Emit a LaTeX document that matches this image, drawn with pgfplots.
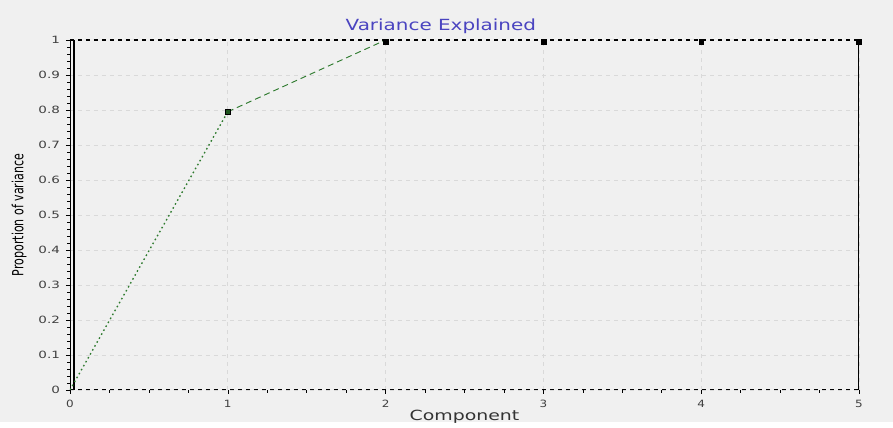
\documentclass[border=0pt]{standalone}
\usepackage{fontspec}
\setmainfont{DejaVu Sans}
\usepackage{pgfplots}
\pgfplotsset{compat=1.18}
\definecolor{bg}{HTML}{F0F0F0}
\definecolor{titleblue}{HTML}{4A44C0}
\definecolor{linegreen}{HTML}{2E7A2E}
\definecolor{ticktext}{HTML}{404040}

\begin{document}
\begin{tikzpicture}
% page background, 893x422 px at 0.75pt per px
\fill[bg] (-52.5pt,-24pt) rectangle (617.25pt,292.5pt);
\begin{axis}[
	at={(0,0)}, anchor=south west,
	scale only axis,
	width=591.75pt, height=262.5pt,
	xmin=0, xmax=5, ymin=0, ymax=1,
	xtick={0,1,2,3,4,5},
	ytick={0,0.1,0.2,0.3,0.4,0.5,0.6,0.7,0.8,0.9,1},
	minor x tick num=3,
	minor y tick num=4,
	xtick pos=left, ytick pos=left,
	tick align=outside,
	major tick length=3pt, minor tick length=2pt,
	tick style={black, line width=0.4pt},
	xmajorgrids, ymajorgrids,
	grid style={dashed, black!15, line width=0.5pt},
	axis line style={draw=none},
	ticklabel style={font=\fontsize{7.5}{8}\selectfont, text=ticktext},
	/pgf/number format/assume math mode=true,
	yticklabel={\scalebox{1.35}[1]{\pgfmathprintnumber[fixed,precision=1]{\tick}}},
	xticklabel={\scalebox{1.2}[1]{\pgfmathprintnumber{\tick}}},
	xticklabel style={yshift=-1pt},
	yticklabel style={xshift=-1pt},
	title={\scalebox{1.3}[1]{Variance Explained}},
	title style={font=\fontsize{11.5}{12}\selectfont, text=titleblue, at={(0.47,1)}, anchor=south, yshift=-4.5pt},
	xlabel={\scalebox{1.35}[1]{Component}},
	xlabel style={font=\fontsize{10.5}{12}\selectfont, text=black!80, yshift=5pt},
	ylabel={\scalebox{0.72}[1]{Proportion of variance}},
	ylabel style={font=\fontsize{11.5}{12}\selectfont, text=black, yshift=2pt},
]
% frame
\draw[black, dashed, line width=0.8pt] (rel axis cs:0,1) -- (rel axis cs:1,1);
\draw[black, dashed, line width=1.2pt] (rel axis cs:0,0) -- (rel axis cs:1,0);
\draw[black, line width=0.8pt] (rel axis cs:1,0) -- (rel axis cs:1,1);
\draw[black, line width=0.6pt] (rel axis cs:0,0) -- (rel axis cs:0,1);
\draw[black, line width=1.8pt] (axis cs:0.025,0) -- (axis cs:0.025,1);
% variance explained
\addplot[linegreen, dash pattern=on 1.2pt off 2.2pt, line width=1pt] coordinates {(0,0) (1,0.795)};
\addplot[linegreen, dash pattern=on 4.5pt off 3pt, line width=0.7pt] coordinates {(1,0.795) (2,1.0)};
\addplot[black, only marks, mark=square*, mark size=2.2pt, mark options={fill=linegreen!70!black, draw=black}] coordinates {(1,0.795)};
\addplot[black, only marks, mark=square*, mark size=1.8pt] coordinates {(2,0.995) (3,0.995) (4,0.995) (5,0.995)};
\end{axis}
\end{tikzpicture}
\end{document}
